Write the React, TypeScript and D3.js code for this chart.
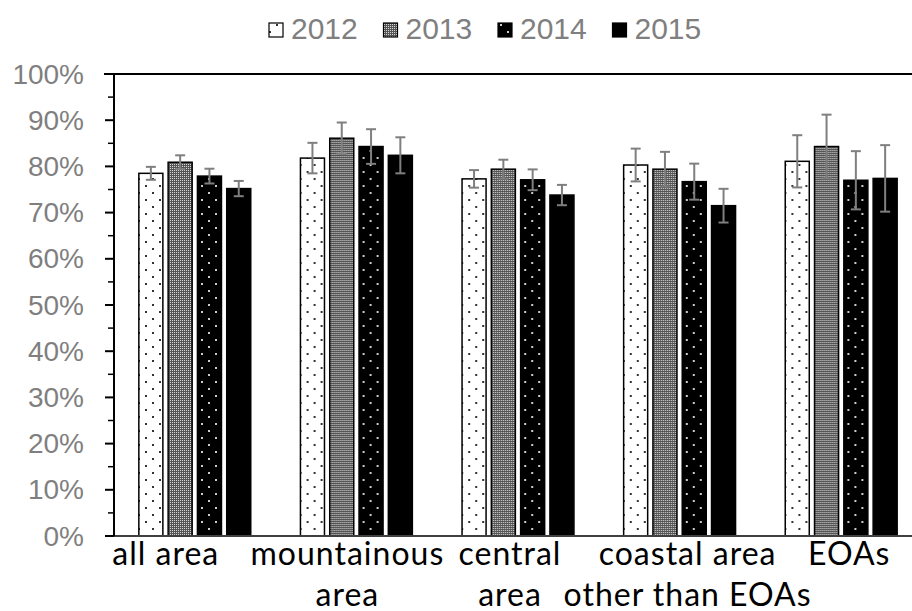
import React from "react";
import * as d3 from "d3";

// Survey shares by region and year, with their error margins (percentage points)
const categories = ["all area", "mountainous area", "central area", "coastal area other than EOAs", "EOAs"];
const categoryLines = [["all area"], ["mountainous", "area"], ["central", "area"], ["coastal area", "other than EOAs"], ["EOAs"]];
const years = ["2012", "2013", "2014", "2015"];

const values2012 = [78.5, 81.8, 77.3, 80.3, 81.1];
const values2013 = [80.9, 86.1, 79.4, 79.4, 84.3];
const values2014 = [77.9, 84.3, 77.1, 76.7, 77.0];
const values2015 = [75.2, 82.4, 73.8, 71.5, 77.4];

const errors2012 = [1.4, 3.3, 1.9, 3.55, 5.65];
const errors2013 = [1.5, 3.4, 2.05, 3.75, 6.9];
const errors2014 = [1.6, 3.75, 2.25, 3.9, 6.3];
const errors2015 = [1.65, 3.9, 2.2, 3.65, 7.2];

const yTicks = [0, 10, 20, 30, 40, 50, 60, 70, 80, 90, 100];

const seriesValues = [values2012, values2013, values2014, values2015];
const seriesErrors = [errors2012, errors2013, errors2014, errors2015];

// Layout
const W = 912;
const H = 611;
const plotLeft = 114;
const plotRight = 922;
const plotTop = 74;
const plotBottom = 536;
const labelNudge = [-29, -9, -8, 8, 8];
const fills = ["url(#dotsLight)", "url(#fineGrey)", "url(#dotsDark)", "#000"];

export default function App() {
  const x = d3.scaleBand<string>().domain(categories).range([plotLeft, plotRight]).padding(0);
  const xi = d3
    .scaleBand<string>()
    .domain(years)
    .range([0, x.bandwidth()])
    .paddingInner(0.18)
    .paddingOuter(0.848);
  const y = d3.scaleLinear().domain([0, 100]).range([plotBottom, plotTop]);

  const minorTicks = d3.range(5, 100, 10);
  const tickFont = "'Liberation Sans', Arial, sans-serif";
  const labelFont = "Lato, 'Open Sans', sans-serif";

  return (
    <svg
      width={W}
      height={H}
      style={{ position: "absolute", left: 0, top: 0, background: "#fff" }}
    >
      <defs>
        <pattern id="dotsLight" patternUnits="userSpaceOnUse" width={14} height={14}>
          <rect width={14} height={14} fill="#fff" />
          <rect x={3} y={3} width={2} height={2} fill="#333" />
          <rect x={10} y={10} width={2} height={2} fill="#333" />
        </pattern>
        <pattern id="dotsDark" patternUnits="userSpaceOnUse" width={14} height={14}>
          <rect width={14} height={14} fill="#000" />
          <rect x={3} y={3} width={2} height={2} fill="#ccc" />
          <rect x={10} y={10} width={2} height={2} fill="#ccc" />
        </pattern>
        <pattern id="fineGrey" patternUnits="userSpaceOnUse" width={2} height={2}>
          <rect width={2} height={2} fill="#555" />
          <rect x={0} y={0} width={1} height={1} fill="#d8d8d8" />
        </pattern>
      </defs>

      {/* Legend */}
      {years.map((yr, i) => {
        const x0 = 269 + i * 114.5;
        return (
          <g key={yr}>
            <rect x={x0} y={23} width={14} height={14} fill={fills[i]} stroke="#000" strokeWidth={1.2} />
            <text x={x0 + 22} y={39} fontFamily={tickFont} fontSize={30} fill="#7f7f7f">
              {yr}
            </text>
          </g>
        );
      })}

      {/* Bars */}
      {categories.map((cat, ci) => (
        <g key={cat} transform={`translate(${x(cat)},0)`}>
          {years.map((yr, si) => {
            const v = seriesValues[si][ci];
            return (
              <rect
                key={yr}
                x={xi(yr)}
                y={y(v)}
                width={xi.bandwidth()}
                height={y(0) - y(v)}
                fill={fills[si]}
                stroke="#000"
                strokeWidth={1.5}
              />
            );
          })}
        </g>
      ))}

      {/* Error bars */}
      {categories.map((cat, ci) => (
        <g key={cat + "-err"} transform={`translate(${x(cat)},0)`}>
          {years.map((yr, si) => {
            const v = seriesValues[si][ci];
            const e = seriesErrors[si][ci];
            const cx = (xi(yr) as number) + xi.bandwidth() / 2;
            return (
              <g key={yr} stroke="#7f7f7f" strokeWidth={2}>
                <line x1={cx} x2={cx} y1={y(v + e)} y2={y(v - e)} />
                <line x1={cx - 5} x2={cx + 5} y1={y(v + e)} y2={y(v + e)} />
                <line x1={cx - 5} x2={cx + 5} y1={y(v - e)} y2={y(v - e)} />
              </g>
            );
          })}
        </g>
      ))}

      {/* Axes */}
      <line x1={plotLeft} x2={plotRight} y1={plotBottom} y2={plotBottom} stroke="#404040" strokeWidth={2} />
      <line x1={104} x2={plotRight} y1={plotTop} y2={plotTop} stroke="#000" strokeWidth={2} />
      <line x1={plotLeft} x2={plotLeft} y1={plotTop} y2={plotBottom} stroke="#000" strokeWidth={2} />
      {yTicks.map((t) => (
        <g key={t}>
          <line x1={105} x2={plotLeft} y1={y(t)} y2={y(t)} stroke="#000" strokeWidth={2} />
          <text
            x={84}
            y={y(t)}
            textAnchor="end"
            dominantBaseline="central"
            fontFamily={tickFont}
            fontSize={28}
            fill="#7f7f7f"
          >
            {t}%
          </text>
        </g>
      ))}
      {minorTicks.map((t) => (
        <line key={t} x1={108} x2={plotLeft} y1={y(t)} y2={y(t)} stroke="#000" strokeWidth={1.5} />
      ))}

      {/* Category labels */}
      {categories.map((cat, ci) => {
        const cx = (x(cat) as number) + x.bandwidth() / 2 + labelNudge[ci];
        return (
          <text
            key={cat}
            textAnchor="middle"
            fontFamily={labelFont}
            fontSize={32}
            letterSpacing={1}
            fill="#000"
          >
            {categoryLines[ci].map((line, li) => (
              <tspan key={li} x={cx} y={565 + li * 41}>
                {line}
              </tspan>
            ))}
          </text>
        );
      })}
    </svg>
  );
}
